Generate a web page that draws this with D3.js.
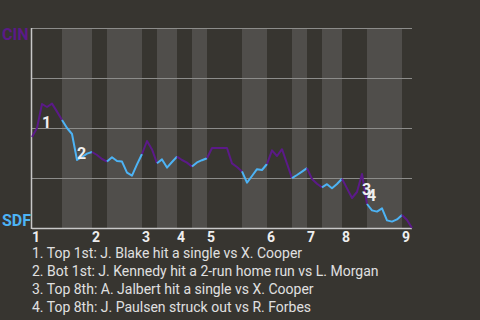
<!DOCTYPE html>
<html>
<head>
<meta charset="utf-8">
<script src="https://cdn.jsdelivr.net/npm/d3@7/dist/d3.min.js"></script>
<style>
  html, body { margin: 0; padding: 0; background: #373530; }
  svg { display: block; font-family: Roboto, "Noto Sans", sans-serif; }
</style>
</head>
<body>
<div id="chart"></div>
<script>
// CIN win probability (%) after each plate appearance, index 0 = first pitch
const winProb = [45.5, 50, 62, 60.5, 62.2, 58.2, 54,
  50, 47, 34, 35.5, 37.2, 38,
  36.5, 34.5, 33.2,
  35.4, 33.5, 33.2, 27.7, 26.2, 31.8, 37,
  43.5, 39.3, 32.4,
  34.3, 30.2, 33, 35.7,
  34, 32.7, 30.7,
  32.8, 33.9, 34.9,
  40, 40, 40, 40, 32.3, 30.5, 28.3,
  22.7, 26, 29.4, 29, 32,
  38.8, 36, 39.4, 32.2, 24.9,
  26.5, 28.2, 29.9,
  24.5, 22.1, 20.3,
  21.9, 19.9, 22, 24.6,
  19.8, 15, 18, 27, 12,
  8.8, 8.2, 9.8, 3.8, 3.2, 4.3, 6.5,
  4, 0];

// plate appearance index where each half inning starts (top 1st, bot 1st, ...)
const halfStarts = [0, 6, 12, 15, 22, 25, 29, 32, 35, 42, 47, 52, 55, 58, 62, 67, 74];
const lastIndex = 76;
const innings = [1, 2, 3, 4, 5, 6, 7, 8, 9];

const eventIdx = [2, 9, 66, 67];
const eventText = [
  "Top 1st: J. Blake hit a single vs X. Cooper",
  "Bot 1st: J. Kennedy hit a 2-run home run vs L. Morgan",
  "Top 8th: A. Jalbert hit a single vs X. Cooper",
  "Top 8th: J. Paulsen struck out vs R. Forbes"
];

const teams = ["CIN", "SDF"];
const yTicks = [0, 25, 50, 75, 100];

const awayColor = "#5b1a88";
const homeColor = "#4db3f5";

const width = 480, height = 320;
const margin = { top: 28, right: 68, bottom: 92, left: 32 };

const svg = d3.select("#chart")
  .append("svg")
  .attr("width", width)
  .attr("height", height);

const x = d3.scaleLinear()
  .domain([0, lastIndex])
  .range([margin.left, width - margin.right]);

const y = d3.scaleLinear()
  .domain([0, 100])
  .range([height - margin.bottom, margin.top]);

// half inning spans
const halves = halfStarts.map((s, i) => ({
  start: s,
  end: i + 1 < halfStarts.length ? halfStarts[i + 1] : lastIndex,
  top: i % 2 === 0
}));

// bottom halves get the lighter band
svg.append("g")
  .selectAll("rect")
  .data(halves.filter(h => !h.top))
  .join("rect")
  .attr("x", d => x(d.start))
  .attr("width", d => x(d.end) - x(d.start))
  .attr("y", y(100))
  .attr("height", y(0) - y(100))
  .attr("fill", "#504e4b");

// grid
svg.append("g")
  .selectAll("line")
  .data(yTicks)
  .join("line")
  .attr("x1", x(0))
  .attr("x2", x(lastIndex))
  .attr("y1", d => Math.round(y(d)) + 0.5)
  .attr("y2", d => Math.round(y(d)) + 0.5)
  .attr("stroke", d => d === 0 ? "#c8c8c8" : "#8c8c8a")
  .attr("stroke-width", d => d === 0 ? 1.5 : 1);

svg.append("line")
  .attr("x1", x(0) - 0.5).attr("x2", x(0) - 0.5)
  .attr("y1", y(100)).attr("y2", y(0) + 1)
  .attr("stroke", "#c8c8c8")
  .attr("stroke-width", 1.5);

// win probability line, coloured by which team is batting
const line = d3.line()
  .x(d => x(d.i))
  .y(d => y(d.p));

svg.append("g")
  .selectAll("path")
  .data(halves)
  .join("path")
  .attr("d", h => line(d3.range(h.start, h.end + 1).map(i => ({ i: i, p: winProb[i] }))))
  .attr("fill", "none")
  .attr("stroke", h => h.top ? awayColor : homeColor)
  .attr("stroke-width", 2)
  .attr("stroke-linejoin", "round");

// event markers: at the event's x, halfway down the jump
svg.append("g")
  .selectAll("text")
  .data(eventIdx)
  .join("text")
  .attr("x", i => x(i))
  .attr("y", i => (y(winProb[i - 1]) + y(winProb[i])) / 2 + 11.5)
  .attr("fill", "#f0f0f0")
  .attr("font-size", 16)
  .attr("font-weight", "bold")
  .text((i, k) => k + 1);

// inning labels
svg.append("g")
  .selectAll("text")
  .data(innings)
  .join("text")
  .attr("x", (d, k) => x(halfStarts[k * 2]))
  .attr("y", y(0) + 14)
  .attr("fill", "#eeeeee")
  .attr("font-size", 14)
  .attr("font-weight", "bold")
  .text(d => d);

// team labels
svg.append("text")
  .attr("x", 2)
  .attr("y", y(100) + 12)
  .attr("fill", awayColor)
  .attr("font-size", 16)
  .attr("font-weight", "bold")
  .text(teams[0]);

svg.append("text")
  .attr("x", 2)
  .attr("y", y(0) - 2)
  .attr("fill", homeColor)
  .attr("font-size", 16)
  .attr("font-weight", "bold")
  .text(teams[1]);

// event descriptions
svg.append("g")
  .selectAll("text")
  .data(eventText)
  .join("text")
  .attr("x", margin.left)
  .attr("y", (d, k) => 258 + k * 18)
  .attr("fill", "#e0e0e0")
  .attr("font-size", 14)
  .text((d, k) => (k + 1) + ". " + d);
</script>
</body>
</html>
